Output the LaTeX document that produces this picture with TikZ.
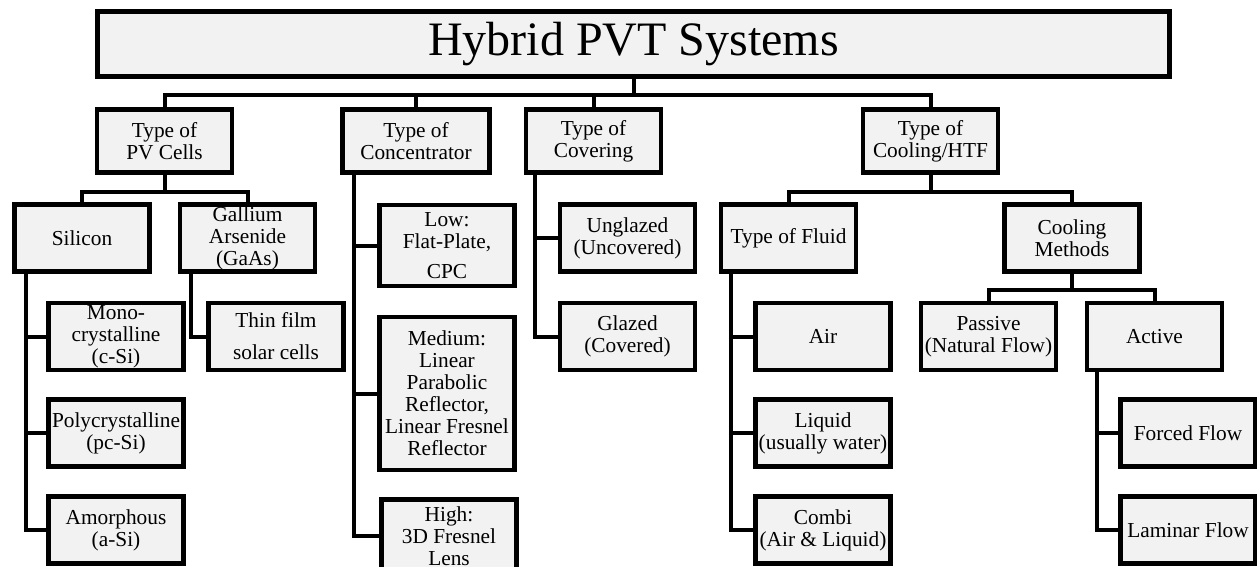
\documentclass[tikz,border=0pt]{standalone}
\usepackage{fontspec}
\setmainfont{Liberation Serif}
\usepackage{xcolor}
\usepackage{tikz}
\usetikzlibrary{positioning,calc}
\definecolor{boxfill}{RGB}{242,242,242}

\begin{document}
\begin{tikzpicture}[x=0.75pt, y=-0.75pt,
  font=\fontsize{16}{16.5}\selectfont,
  blk/.style={draw, line width=3.4pt, fill=boxfill, align=center, inner sep=1pt,
    minimum width=101pt, minimum height=50pt},
  top/.style={blk, minimum height=47.5pt},
  conn/.style={line width=3pt}]
\useasboundingbox (0,0) rectangle (1257,567);
\node[blk, minimum width=804pt, minimum height=49pt, font=\fontsize{36}{40}\selectfont] (title) at (633.5,44) {Hybrid PVT Systems};
\node[top] (pv) at (164.5,141) {Type of\\PV Cells};
\node[top, minimum width=110.6pt] (conc) at (416,141) {Type of\\Concentrator};
\node[top] (cov) at (593.5,141) {Type of\\Covering};
\node[top] (cool) at (930.5,141) {Type of\\Cooling/HTF};
\foreach \n in {pv,conc,cov,cool} \draw[conn] (title.south) -- ++(0,16) -| (\n.north);
\node[blk] (sil) at (82,238) {Silicon};
\node[blk] (gaas) at (247.5,238) {Gallium\\Arsenide\\(GaAs)};
\node[blk, minimum height=60.5pt] (low) at (447,245.5) {Low:\\Flat-Plate,\\[6pt]CPC};
\node[blk] (ungl) at (627.5,238) {Unglazed\\(Uncovered)};
\node[blk] (fluid) at (788.5,238) {Type of Fluid};
\node[blk] (cm) at (1072,238) {Cooling\\Methods};
\foreach \n in {sil,gaas} \draw[conn] (pv.south) -- ++(0,17) -| (\n.north);
\foreach \n in {fluid,cm} \draw[conn] (cool.south) -- ++(0,17) -| (\n.north);
\node[blk] (mono) at (116,336.5) {Mono-\\crystalline\\(c-Si)};
\node[blk] (thin) at (276,336.5) {Thin film\\[7.5pt]solar cells};
\node[blk, minimum height=114.5pt] (med) at (447,393.5) {Medium:\\Linear\\Parabolic\\Reflector,\\Linear Fresnel\\Reflector};
\node[blk] (glaz) at (627.5,336.5) {Glazed\\(Covered)};
\node[blk] (air) at (823,336.5) {Air};
\node[blk] (pas) at (988.5,336.5) {Passive\\(Natural Flow)};
\node[blk] (act) at (1154.5,336.5) {Active};
\foreach \n in {pas,act} \draw[conn] (cm.south) -- ++(0,16) -| (\n.north);
\node[blk] (poly) at (mono |- 0,433) {Polycrystalline\\(pc-Si)};
\node[blk] (liq) at (air |- 0,433) {Liquid\\(usually water)};
\node[blk] (forc) at (1188,433) {Forced Flow};
\node[blk] (amor) at (mono |- 0,530) {Amorphous\\(a-Si)};
\node[blk, minimum height=55pt] (high) at (449,536) {High:\\3D Fresnel\\Lens};
\node[blk] (combi) at (air |- 0,530) {Combi\\(Air \& Liquid)};
\node[blk] (lam) at (forc |- 0,530) {Laminar Flow};
\foreach \n in {mono,poly,amor} \draw[conn] ($(sil.south west)+(14,0)$) |- (\n.west);
\draw[conn] ($(gaas.south west)+(13,0)$) |- (thin.west);
\foreach \n in {low,med,high} \draw[conn] ($(conc.south west)+(14,0)$) |- (\n.west);
\foreach \n in {ungl,glaz} \draw[conn] ($(cov.south west)+(11,0)$) |- (\n.west);
\foreach \n in {air,liq,combi} \draw[conn] ($(fluid.south west)+(12,0)$) |- (\n.west);
\foreach \n in {forc,lam} \draw[conn] ($(act.south west)+(12,0)$) |- (\n.west);
\end{tikzpicture}
\end{document}
